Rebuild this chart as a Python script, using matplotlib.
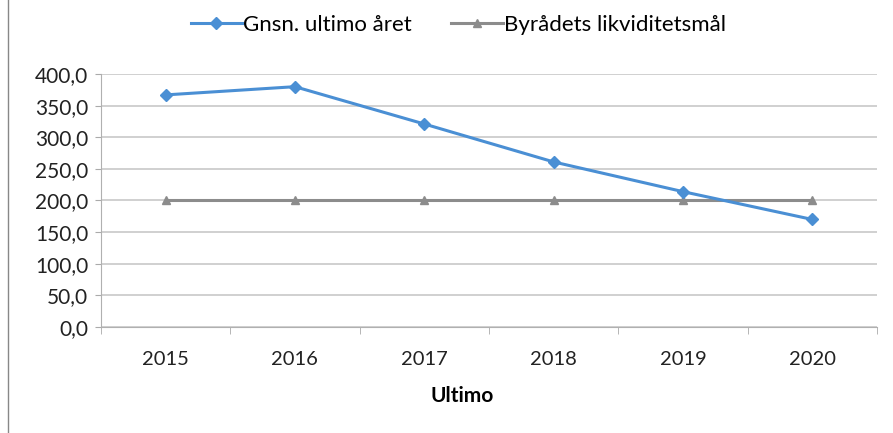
import numpy as np
import matplotlib.pyplot as plt
from matplotlib.lines import Line2D

plt.rcParams['font.family'] = ['Lato', 'DejaVu Sans']

# data
years = ["2015", "2016", "2017", "2018", "2019", "2020"]
gnsn = [367, 380, 321, 261, 214, 170]
maal = [200, 200, 200, 200, 200, 200]

x = np.arange(len(years))

fig = plt.figure(figsize=(8.93, 4.33), dpi=100)
ax = fig.add_axes([0.113, 0.245, 0.869, 0.584])

ax.plot(x, maal, color="#8c8c8c", lw=2.2, marker="^", ms=6, label="Byrådets likviditetsmål", zorder=3)
ax.plot(x, gnsn, color="#4a8fd4", lw=2.2, marker="D", ms=6, label="Gnsn. ultimo året", zorder=4)

ax.set_xlim(-0.5, 5.5)
ax.set_ylim(0, 400)
ax.set_yticks(np.arange(0, 401, 50))
ax.set_yticklabels([f"{v:.1f}".replace(".", ",") for v in np.arange(0, 401, 50)])
ax.set_xticks(x)
ax.set_xticklabels(years)
ax.set_xticks(np.arange(-0.5, 6, 1), minor=True)
ax.tick_params(axis="x", which="major", length=0, pad=17, labelsize=14.5, colors="#222222")
ax.tick_params(axis="x", which="minor", length=5, color="#aaaaaa")
ax.tick_params(axis="y", length=4, color="#aaaaaa", labelsize=15, labelcolor="#222222", pad=5)

ax.grid(axis="y", color="#c8c8c8", lw=1.2)
ax.set_axisbelow(True)
for s in ["top", "right"]:
    ax.spines[s].set_visible(False)
ax.spines["left"].set_color("#b0b0b0")
ax.spines["bottom"].set_color("#b0b0b0")

ax.set_xlabel("Ultimo", fontsize=15, fontweight="bold")
ax.xaxis.set_label_coords(0.465, -0.235)

h, l = ax.get_legend_handles_labels()
fig.legend(h[::-1], l[::-1], loc="center", bbox_to_anchor=(0.513, 0.942), ncol=2, frameon=False,
           fontsize=16, handlelength=2.3, columnspacing=1.8, handletextpad=0.05)

# frame line on the left edge
fig.add_artist(Line2D([0.009, 0.009], [0, 1], color="#888888", lw=1, transform=fig.transFigure))

plt.savefig("out.png", dpi=100)
